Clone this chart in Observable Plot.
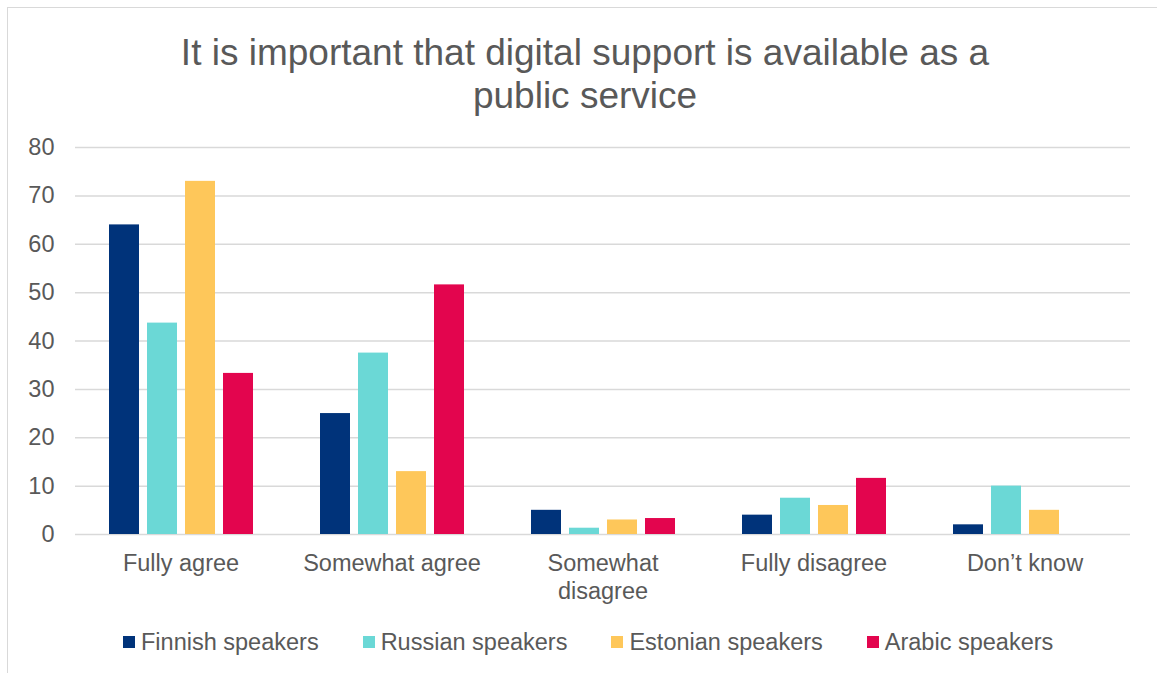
<!DOCTYPE html>
<html>
<head>
<meta charset="utf-8">
<script src="https://cdn.jsdelivr.net/npm/d3@7"></script>
<script src="https://cdn.jsdelivr.net/npm/@observablehq/plot@0.6"></script>
<style>
  html, body { margin: 0; padding: 0; background: #fff; overflow: hidden; }
  body { width: 1157px; height: 673px; position: relative; font-family: "Liberation Sans", Arial, sans-serif; color: #595959; }
  #frame { position: absolute; left: 7px; top: 7px; width: 1200px; height: 700px; border: 1.5px solid #D9D9D9; box-sizing: border-box; }
  #title { position: absolute; left: 0; top: 31px; width: 1170px; text-align: center; font-size: 37px; line-height: 43px; color: #595959; }
  #chart { position: absolute; left: 0; top: 120px; }
  #legend { position: absolute; left: 123px; top: 628px; height: 28px; display: flex; align-items: center; font-size: 23.5px; line-height: 28px; color: #595959; white-space: nowrap; }
  .item { display: flex; align-items: center; margin-right: 44px; }
  .sw { width: 12px; height: 12px; margin-right: 6px; }
</style>
</head>
<body>
<div id="frame"></div>
<div id="title">It is important that digital support is available as a<br>public service</div>
<div id="chart"></div>
<div id="legend"></div>
<script>
const categories = ["Fully agree", "Somewhat agree", "Somewhat disagree", "Fully disagree", "Don’t know"];
const categoryLabels = ["Fully agree", "Somewhat agree", "Somewhat\ndisagree", "Fully disagree", "Don’t know"];
const series = ["Finnish speakers", "Russian speakers", "Estonian speakers", "Arabic speakers"];
const colors = ["#00337A", "#6BD8D6", "#FEC75A", "#E3054E"];
const finnish = [64, 25, 5, 4, 2];
const russian = [43.7, 37.5, 1.3, 7.5, 10];
const estonian = [73, 13, 3, 6, 5];
const arabic = [33.3, 51.6, 3.3, 11.6, null];
const yTicks = [0, 10, 20, 30, 40, 50, 60, 70, 80];

const seriesValues = [finnish, russian, estonian, arabic];
const data = categories.flatMap((c, i) =>
  series.map((s, j) => ({category: c, series: s, value: seriesValues[j][i]}))
).filter(d => d.value != null);

const chart = Plot.plot({
  width: 1157,
  height: 490,
  marginLeft: 73,
  marginRight: 26,
  marginTop: 27,
  marginBottom: 76,
  style: {fontFamily: "'Liberation Sans', Arial, sans-serif", fontSize: "23.5px", color: "#595959", background: "transparent", overflow: "visible"},
  fx: {domain: categories, padding: 0, label: null},
  x: {domain: series, paddingInner: 0.217, paddingOuter: 0.87, axis: null},
  y: {domain: [0, 80], label: null},
  color: {domain: series, range: colors},
  marks: [
    Plot.gridY(yTicks, {stroke: "#D9D9D9", strokeOpacity: 1, strokeWidth: 1.5}),
    Plot.axisY(yTicks, {tickSize: 0, tickPadding: 21, label: null, fill: "#595959"}),
    Plot.axisFx({anchor: "bottom", tickSize: 0, tickPadding: 17, label: null, lineHeight: 1.17, fill: "#595959",
      tickFormat: c => categoryLabels[categories.indexOf(c)]}),
    Plot.barY(data, {fx: "category", x: "series", y: "value", fill: "series"})
  ]
});
document.getElementById("chart").appendChild(chart);

const legend = document.getElementById("legend");
series.forEach((s, i) => {
  const item = document.createElement("div");
  item.className = "item";
  const sw = document.createElement("div");
  sw.className = "sw";
  sw.style.background = colors[i];
  const t = document.createElement("span");
  t.textContent = s;
  item.appendChild(sw);
  item.appendChild(t);
  legend.appendChild(item);
});
</script>
</body>
</html>
